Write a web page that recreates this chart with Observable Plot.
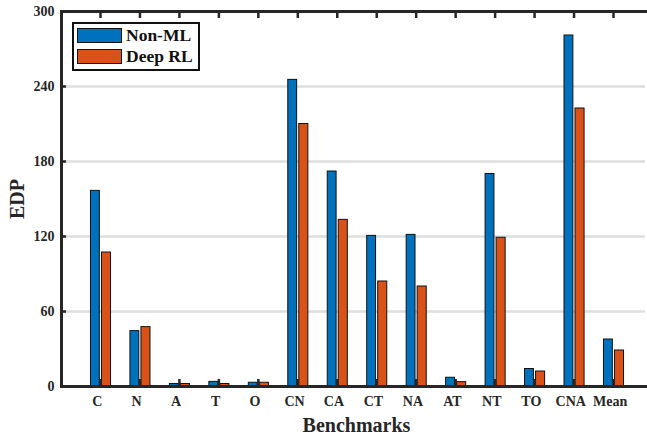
<!DOCTYPE html>
<html>
<head>
<meta charset="utf-8">
<script src="https://cdn.jsdelivr.net/npm/d3@7"></script>
<script src="https://cdn.jsdelivr.net/npm/@observablehq/plot@0.6"></script>
<style>
  body { margin: 0; background: #fff; }
  #wrap { position: relative; width: 647px; height: 436px; font-family: "Liberation Serif", "Times New Roman", serif; color: #262626; }
  #legend { position: absolute; left: 72px; top: 22px; width: 124px; height: 45px; border: 2px solid #111; background: #fff; }
  .item { position: absolute; left: 3px; display: flex; align-items: center; height: 15px; }
  .sw { width: 45px; height: 15px; box-sizing: border-box; border: 1px solid #111; margin-right: 4px; }
  .lab { font-size: 17.5px; font-weight: bold; line-height: 15px; color: #111; white-space: nowrap; }
</style>
</head>
<body>
<div id="wrap"></div>
<script>
const categories = ["C","N","A","T","O","CN","CA","CT","NA","AT","NT","TO","CNA","Mean"];
const seriesNames = ["Non-ML", "Deep RL"];
const nonML  = [156.5, 44.3, 2, 3.7, 3, 245.3, 172, 120.5, 121.3, 7, 170, 14, 280.8, 37.6];
const deepRL = [107.2, 47.5, 2, 2, 3, 210, 133.3, 84, 80, 3.5, 119, 12, 222.4, 28.8];
const yTicks = [0, 60, 120, 180, 240, 300];
const xLabel = "Benchmarks";
const yLabel = "EDP";
const colors = ["#0072BD", "#D95319"];

const rows = categories.map((c, i) => ({category: c, nonML: nonML[i], deepRL: deepRL[i]}));
const ink = "#262626";

const chart = Plot.plot({
  width: 647,
  height: 436,
  marginLeft: 61,
  marginTop: 11,
  marginBottom: 50,
  marginRight: 0,
  style: {fontFamily: '"Liberation Serif", "Times New Roman", serif', color: ink, background: "#fff"},
  x: {type: "band", domain: categories, range: [80.27, 632.73], padding: 0, round: false, axis: null},
  y: {domain: [0, 300], axis: null},
  marks: [
    Plot.gridY(yTicks.slice(1, -1), {stroke: "#dedede", strokeOpacity: 1, strokeWidth: 2.5, insetRight: 2}),
    Plot.barY(rows, {x: "category", y: "nonML", fill: colors[0], stroke: "#111", strokeWidth: 1, insetLeft: 10.2, insetRight: 20.4}),
    Plot.barY(rows, {x: "category", y: "deepRL", fill: colors[1], stroke: "#111", strokeWidth: 1, insetLeft: 21.2, insetRight: 9.2}),
    Plot.axisY({ticks: yTicks.slice(1, -1), tickSize: -5, tickFormat: () => "", stroke: ink, strokeWidth: 2.5, label: null}),
    Plot.axisX({anchor: "bottom", tickSize: -7, tickFormat: () => "", stroke: ink, strokeWidth: 2.5, label: null}),
    Plot.axisX({anchor: "top", tickSize: -6, tickFormat: () => "", stroke: ink, strokeWidth: 2.5, label: null}),
    Plot.frame({anchor: "left", stroke: ink, strokeWidth: 3}),
    Plot.frame({anchor: "top", stroke: ink, strokeWidth: 3}),
    Plot.frame({anchor: "bottom", stroke: ink, strokeWidth: 3}),
    Plot.axisY({ticks: yTicks, tickSize: 0, tickPadding: 7, fontSize: 14, fontWeight: "bold", label: null}),
    Plot.axisX({anchor: "bottom", tickSize: 0, tickPadding: 10, dx: -3.3, fontSize: 14, fontWeight: "bold", label: null}),
    Plot.text([xLabel], {frameAnchor: "bottom", textAnchor: "middle", lineAnchor: "middle", dy: 38.6, dx: 2, fontSize: 20, fontWeight: "bold", fill: ink}),
    Plot.text([yLabel], {frameAnchor: "left", textAnchor: "middle", lineAnchor: "middle", rotate: -90, dx: -44, fontSize: 20, fontWeight: "bold", fill: ink})
  ]
});

const wrap = document.getElementById("wrap");
wrap.appendChild(chart);

const legend = document.createElement("div");
legend.id = "legend";
seriesNames.forEach((name, i) => {
  const item = document.createElement("div");
  item.className = "item";
  item.style.top = (i === 0 ? 4 : 25) + "px";
  const sw = document.createElement("div");
  sw.className = "sw";
  sw.style.background = colors[i];
  const lab = document.createElement("span");
  lab.className = "lab";
  lab.textContent = name;
  item.appendChild(sw);
  item.appendChild(lab);
  legend.appendChild(item);
});
wrap.appendChild(legend);
</script>
</body>
</html>
